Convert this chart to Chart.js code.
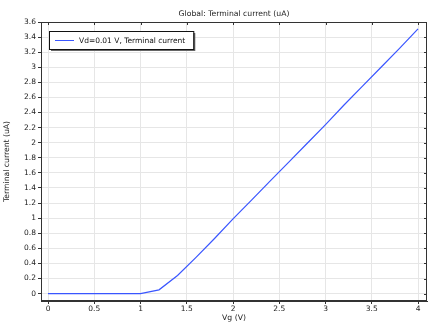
<!DOCTYPE html>
<html>
<head>
<meta charset="utf-8">
<script src="https://cdn.jsdelivr.net/npm/chart.js@4/dist/chart.umd.min.js"></script>
<style>
  html, body { margin: 0; padding: 0; background: #fff; }
  #wrap { width: 438px; height: 335px; }
</style>
</head>
<body>
<div id="wrap"><canvas id="chart" width="438" height="335"></canvas></div>
<script>
// Data
const vg = [0, 0.2, 0.4, 0.6, 0.8, 1.0, 1.2, 1.4, 1.6, 1.8, 2.0, 2.2, 2.4, 2.6, 2.8, 3.0, 3.2, 3.4, 3.6, 3.8, 4.0];
const current = [0, 0, 0, 0, 0, 0, 0.05, 0.24, 0.48, 0.73, 0.99, 1.24, 1.49, 1.74, 1.99, 2.24, 2.5, 2.75, 3.0, 3.25, 3.51];
const xTicks = [0, 0.5, 1, 1.5, 2, 2.5, 3, 3.5, 4];
const yTicks = [0, 0.2, 0.4, 0.6, 0.8, 1, 1.2, 1.4, 1.6, 1.8, 2, 2.2, 2.4, 2.6, 2.8, 3, 3.2, 3.4, 3.6];
const seriesLabel = "Vd=0.01 V, Terminal current";
const titleText = "Global: Terminal current (uA)";

const FONT = "DejaVu Sans";
const lineColor = "#3a56ff";

// frame, inner ticks, title and legend box
const framePlugin = {
  id: "frame",
  afterDraw(chart) {
    const ctx = chart.ctx;
    const a = chart.chartArea;
    const xs = chart.scales.x, ys = chart.scales.y;
    ctx.save();
    ctx.strokeStyle = "#333";
    ctx.lineWidth = 1;
    ctx.strokeRect(a.left + 0.5, a.top + 0.5, a.right - a.left - 1, a.bottom - a.top - 1);
    ctx.beginPath();
    xTicks.forEach(v => {
      const px = Math.round(xs.getPixelForValue(v)) + 0.5;
      ctx.moveTo(px, a.top); ctx.lineTo(px, a.top + 3);
    });
    yTicks.forEach(v => {
      const py = Math.round(ys.getPixelForValue(v)) + 0.5;
      ctx.moveTo(a.right, py); ctx.lineTo(a.right - 3, py);
    });
    ctx.stroke();

    // title
    ctx.fillStyle = "#222";
    ctx.font = "7.7px " + FONT;
    ctx.textAlign = "center";
    ctx.textBaseline = "middle";
    ctx.fillText(titleText, (a.left + a.right) / 2, 14.5);

    // legend
    const ds = chart.data.datasets[0];
    ctx.font = "7.5px " + FONT;
    const tw = ctx.measureText(ds.label).width;
    const bx = a.left + 8, by = a.top + 9, bw = tw + 38, bh = 18;
    ctx.fillStyle = "#666";
    ctx.fillRect(bx + 2, by + 2, bw, bh);
    ctx.fillStyle = "#fff";
    ctx.fillRect(bx, by, bw, bh);
    ctx.strokeStyle = "#111";
    ctx.strokeRect(bx + 0.5, by + 0.5, bw, bh);
    ctx.strokeStyle = ds.borderColor;
    ctx.beginPath();
    ctx.moveTo(bx + 6, by + bh / 2 + 0.5);
    ctx.lineTo(bx + 25, by + bh / 2 + 0.5);
    ctx.stroke();
    ctx.fillStyle = "#111";
    ctx.textAlign = "left";
    ctx.fillText(ds.label, bx + 30, by + bh / 2 + 1);
    ctx.restore();
  }
};

new Chart(document.getElementById("chart"), {
  type: "line",
  data: {
    datasets: [{
      label: seriesLabel,
      data: vg.map((x, i) => ({ x: x, y: current[i] })),
      borderColor: lineColor,
      borderWidth: 1.2,
      pointRadius: 0,
      tension: 0,
      fill: false
    }]
  },
  options: {
    responsive: false,
    animation: false,
    layout: { padding: { top: 22, right: 11, left: 0, bottom: 0 } },
    plugins: {
      legend: { display: false },
      title: { display: false },
      tooltip: { enabled: false }
    },
    scales: {
      x: {
        type: "linear",
        min: -0.076,
        max: 4.097,
        afterBuildTicks: s => { s.ticks = xTicks.map(v => ({ value: v })); },
        afterFit: s => { s.height = 34; },
        ticks: {
          callback: v => String(v),
          font: { family: FONT, size: 7.5 },
          color: "#222",
          padding: 1,
          maxRotation: 0
        },
        grid: { color: "#e6e6e6", tickLength: 3, tickColor: "#333" },
        border: { color: "#333", width: 1 },
        title: {
          display: true,
          text: "Vg (V)",
          font: { family: FONT, size: 7.7 },
          color: "#222",
          padding: { top: 0, bottom: 12 }
        }
      },
      y: {
        type: "linear",
        min: -0.098,
        max: 3.6,
        afterBuildTicks: s => { s.ticks = yTicks.map(v => ({ value: v })); },
        afterFit: s => { s.width = 41; },
        ticks: {
          callback: v => String(Math.round(v * 10) / 10),
          font: { family: FONT, size: 7.5 },
          color: "#222",
          padding: 2
        },
        grid: { color: "#e6e6e6", tickLength: 3, tickColor: "#333" },
        border: { color: "#333", width: 1 },
        title: {
          display: true,
          text: "Terminal current (uA)",
          font: { family: FONT, size: 7.7 },
          color: "#222",
          padding: { top: 2, bottom: 4 }
        }
      }
    }
  },
  plugins: [framePlugin]
});
</script>
</body>
</html>
